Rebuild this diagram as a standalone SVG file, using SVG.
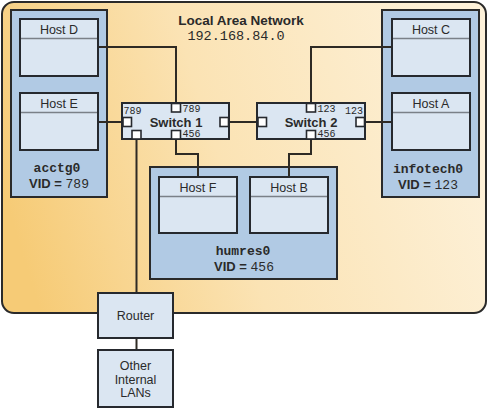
<svg xmlns="http://www.w3.org/2000/svg" width="488" height="410" viewBox="0 0 488 410">
<defs>
<linearGradient id="lan" x1="0" y1="0.6" x2="1" y2="0.4">
<stop offset="0" stop-color="#f6cb76"/>
<stop offset="0.45" stop-color="#fbe3b4"/>
<stop offset="1" stop-color="#fdf1d9"/>
</linearGradient>
<style>
.grp{fill:#b1cae4;stroke:#2a2a2a;stroke-width:2}
.box{fill:#dbe6f2;stroke:#26292e;stroke-width:2}
.hdr{stroke:#7a8088;stroke-width:1.5}
.port{fill:#ffffff;stroke:#26292e;stroke-width:1.6}
.wire{fill:none;stroke:#2e2a24;stroke-width:2}
.t{font-family:"Liberation Sans",Arial,sans-serif;font-size:12.5px;fill:#2a2a2a;text-anchor:middle}
.b{font-family:"Liberation Sans",Arial,sans-serif;font-weight:bold;font-size:13px;fill:#2a2a2a;text-anchor:middle}
.m{font-family:"Liberation Mono","Courier New",monospace;fill:#2a2a2a}
.vl{text-anchor:middle;fill:#2a2a2a}
.vs{font-family:"Liberation Sans",Arial,sans-serif;font-weight:bold;font-size:13px}
.vm{font-family:"Liberation Mono","Courier New",monospace;font-size:13px}
.gn{font-family:"Liberation Mono","Courier New",monospace;font-size:13px;font-weight:bold;fill:#2a2a2a;text-anchor:middle}
.p{font-family:"Liberation Mono","Courier New",monospace;font-size:10px;fill:#2a2a2a}
</style>
</defs>
<g id="lan-area">
<rect x="2" y="2" width="484" height="311" rx="12" fill="url(#lan)" stroke="#2a2a2a" stroke-width="2"/>
<text class="b" x="241" y="25" style="font-size:13.5px">Local Area Network</text>
<text class="m" x="236" y="40" text-anchor="middle" style="font-size:13.5px">192.168.84.0</text>
</g>
<g id="acctg0">
<rect class="grp" x="11" y="10" width="96" height="187"/>
<text class="gn" x="57" y="172">acctg0</text>
<text class="vl" x="59" y="188"><tspan class="vs">VID = </tspan><tspan class="vm">789</tspan></text>
</g>
<g id="infotech0">
<rect class="grp" x="382" y="10" width="97" height="187"/>
<text class="gn" x="428" y="173">infotech0</text>
<text class="vl" x="428" y="189"><tspan class="vs">VID = </tspan><tspan class="vm">123</tspan></text>
</g>
<g id="humres0">
<rect class="grp" x="150" y="167" width="187" height="112"/>
<text class="gn" x="243" y="255">humres0</text>
<text class="vl" x="244" y="271"><tspan class="vs">VID = </tspan><tspan class="vm">456</tspan></text>
</g>
<g id="connectors">
<polyline class="wire" points="98,47 176,47 176,103"/>
<line class="wire" x1="98" y1="122" x2="123" y2="122"/>
<line class="wire" x1="229" y1="122" x2="257" y2="122"/>
<polyline class="wire" points="392,47 311,47 311,103"/>
<line class="wire" x1="365" y1="122" x2="392" y2="122"/>
<polyline class="wire" points="176,139 176,154 198,154 198,177"/>
<polyline class="wire" points="311,139 311,154 289,154 289,177"/>
<line class="wire" x1="136.5" y1="139" x2="136.5" y2="293"/>
<line class="wire" x1="136.5" y1="338" x2="136.5" y2="350"/>
</g>
<g id="host-d">
<rect class="box" x="20" y="19" width="78" height="57"/>
<line class="hdr" x1="21" y1="38.5" x2="97" y2="38.5"/>
<text class="t" x="59" y="34">Host D</text>
</g>
<g id="host-e">
<rect class="box" x="20" y="93" width="78" height="57"/>
<line class="hdr" x1="21" y1="112.5" x2="97" y2="112.5"/>
<text class="t" x="59" y="108">Host E</text>
</g>
<g id="host-c">
<rect class="box" x="392" y="19" width="78" height="57"/>
<line class="hdr" x1="393" y1="38.5" x2="469" y2="38.5"/>
<text class="t" x="431" y="34">Host C</text>
</g>
<g id="host-a">
<rect class="box" x="392" y="93" width="78" height="57"/>
<line class="hdr" x1="393" y1="112.5" x2="469" y2="112.5"/>
<text class="t" x="431" y="108">Host A</text>
</g>
<g id="host-f">
<rect class="box" x="159" y="177" width="78" height="56"/>
<line class="hdr" x1="160" y1="196.5" x2="236" y2="196.5"/>
<text class="t" x="198" y="192">Host F</text>
</g>
<g id="host-b">
<rect class="box" x="250" y="177" width="78" height="56"/>
<line class="hdr" x1="251" y1="196.5" x2="327" y2="196.5"/>
<text class="t" x="289" y="192">Host B</text>
</g>
<g id="switch-1">
<rect class="box" x="122" y="103" width="107" height="36"/>
<rect class="port" x="171.5" y="103.5" width="9" height="8.5"/>
<rect class="port" x="123" y="117.5" width="8.5" height="9"/>
<rect class="port" x="220" y="117.5" width="8.5" height="9"/>
<rect class="port" x="132" y="130.5" width="9" height="8.5"/>
<rect class="port" x="171.5" y="130.5" width="9" height="8.5"/>
<text class="b" x="176" y="127">Switch 1</text>
<text class="p" x="123.5" y="114">789</text>
<text class="p" x="182.5" y="112">789</text>
<text class="p" x="182.5" y="137">456</text>
</g>
<g id="switch-2">
<rect class="box" x="257" y="103" width="108" height="36"/>
<rect class="port" x="306.5" y="103.5" width="9" height="8.5"/>
<rect class="port" x="258" y="117.5" width="8.5" height="9"/>
<rect class="port" x="356" y="117.5" width="8.5" height="9"/>
<rect class="port" x="306.5" y="130.5" width="9" height="8.5"/>
<text class="b" x="311" y="127">Switch 2</text>
<text class="p" x="317.5" y="112">123</text>
<text class="p" x="345" y="114">123</text>
<text class="p" x="317.5" y="137">456</text>
</g>
<g id="router">
<rect class="box" x="98" y="293" width="75" height="45"/>
<text class="t" x="135.5" y="320">Router</text>
</g>
<g id="other-lans">
<rect class="box" x="98" y="350" width="75" height="57"/>
<text class="t" x="135.5" y="370">Other</text>
<text class="t" x="135.5" y="384">Internal</text>
<text class="t" x="135.5" y="397">LANs</text>
</g>
</svg>
